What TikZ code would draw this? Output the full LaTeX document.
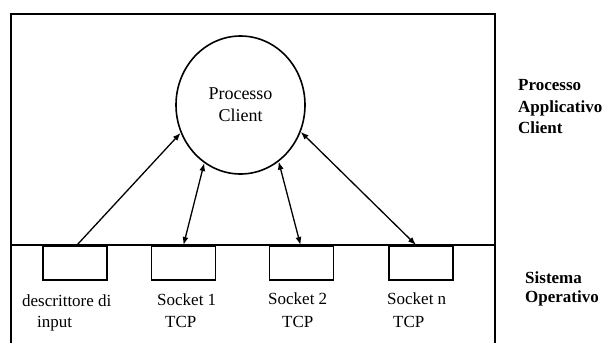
\documentclass[tikz,border=0pt]{standalone}
\usepackage{fontspec}
\setmainfont{Liberation Serif}
\usetikzlibrary{shapes.geometric,arrows.meta}
\begin{document}
\begin{tikzpicture}[x=1pt,y=-1pt,
  frame/.style={line width=2pt},
  sockbox/.style={draw,line width=1.5pt,minimum width=64pt,minimum height=34pt,inner sep=0pt,anchor=north},
  link/.style={line width=1.3pt},
  tip/.style={-{Latex[length=8pt,width=6pt]}},
  both/.style={{Latex[length=8pt,width=6pt]}-{Latex[length=8pt,width=6pt]}},
  lbl/.style={font=\fontsize{17}{20}\selectfont,inner sep=0pt,anchor=base west},
  side/.style={font=\fontsize{17}{20}\selectfont\bfseries,inner sep=0pt,anchor=base west},
]
\useasboundingbox (0,0) rectangle (609,343);
% frame
\coordinate (fbl) at (11,343);
\coordinate (ftl) at (11,14);
\coordinate (ftr) at (495,14);
\coordinate (fbr) at (495,343);
\draw[frame] (fbl) -- (ftl) -- (ftr) -- (fbr);
\coordinate (sl) at (11,245);
\coordinate (sr) at (495,245);
\draw[frame] (sl) -- (sr);
% process
\node[draw,ellipse,line width=1.6pt,minimum width=129pt,minimum height=138pt,inner sep=0pt,
      align=center,font=\fontsize{18}{22}\selectfont] (pc) at (240.5,105) {Processo\\Client};
% boxes
\node[sockbox] (b1) at (75,245) {};
\node[sockbox] (b2) at (183.5,245) {};
\node[sockbox] (b3) at (301.5,245) {};
\node[sockbox] (b4) at (421,245) {};
% connectors
\draw[link,tip] ([xshift=2pt]b1.north) -- (pc.205.6);
\draw[link,both] (b2.north) -- (pc.238.6);
\draw[link,both] ([xshift=-1pt]b3.north) -- (pc.304);
\draw[link,both] ([xshift=-5pt]b4.north) -- (pc.336.6);
% labels
\node[lbl] (d1) at (22,306) {descrittore di};
\node[lbl] (d2) at (37,327) {input};
\node[lbl] (s1a) at (157,305) {Socket 1};
\node[lbl] (s1b) at (165,327) {TCP};
\node[lbl] (s2a) at (268,304) {Socket 2};
\node[lbl] (s2b) at (282,327) {TCP};
\node[lbl] (sna) at (387,304) {Socket n};
\node[lbl] (snb) at (393,327) {TCP};
% side labels
\node[side] (r1) at (518,90) {Processo};
\node[side] (r2) at (518,112) {Applicativo};
\node[side] (r3) at (518,133) {Client};
\node[side] (r4) at (525,283) {Sistema};
\node[side] (r5) at (525,302) {Operativo};
\end{tikzpicture}
\end{document}
